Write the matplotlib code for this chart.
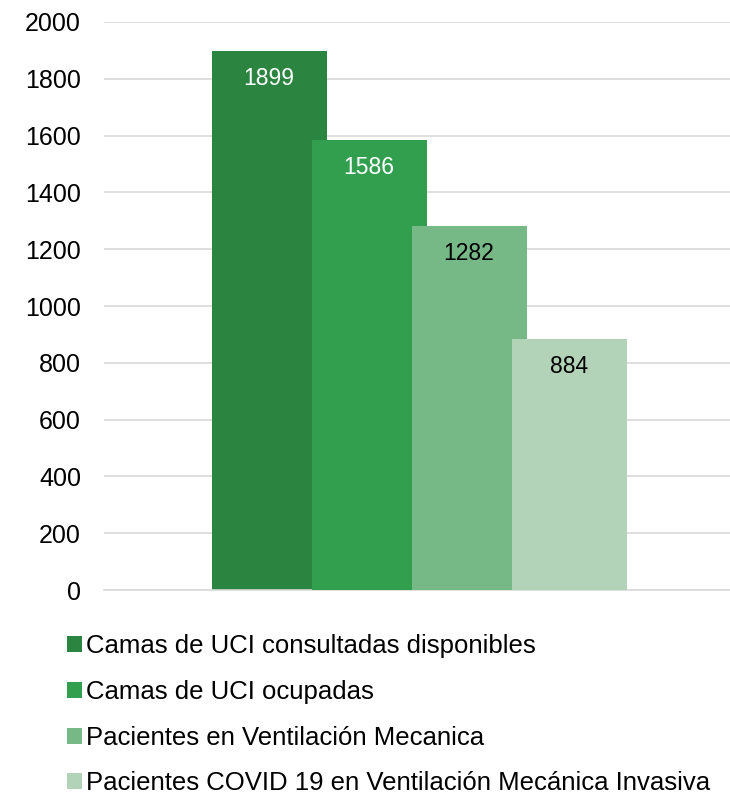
import matplotlib.pyplot as plt
from matplotlib.patches import Patch

plt.rcParams['font.family'] = ['Liberation Sans', 'DejaVu Sans']

# data
series = ["Camas de UCI consultadas disponibles",
          "Camas de UCI ocupadas",
          "Pacientes en Ventilación Mecanica",
          "Pacientes COVID 19 en Ventilación Mecánica Invasiva"]
values = [1899, 1586, 1282, 884]
colors = ['#2B8541', '#329F4F', '#76B986', '#B2D3B8']
label_colors = ['white', 'white', 'black', 'black']
y_ticks = [0, 200, 400, 600, 800, 1000, 1200, 1400, 1600, 1800, 2000]

fig = plt.figure(figsize=(7.3, 7.97), dpi=100)
ax = fig.add_axes([0.1425, 0.2597, 0.8575, 0.7127])

for i, (v, c, lc) in enumerate(zip(values, colors, label_colors)):
    ax.bar(i, v, width=1.15, color=c, zorder=2 + i)
    ax.text(i, v - 98, str(v), ha='center', va='center',
            fontsize=16.5, color=lc, zorder=10)

ax.set_xlim(-1.65, 4.61)
ax.set_ylim(0, 2000)
ax.set_yticks(y_ticks)
ax.set_yticklabels([str(t) for t in y_ticks], fontsize=18)
ax.tick_params(axis='y', length=0, pad=16.5)
ax.set_xticks([])
ax.yaxis.grid(True, color='#d9d9d9', linewidth=1.2, zorder=0)
for s in ['top', 'right', 'left']:
    ax.spines[s].set_visible(False)
ax.spines['bottom'].set_color('#d9d9d9')
ax.spines['bottom'].set_linewidth(1.2)

handles = [Patch(facecolor=c, edgecolor='none') for c in colors]
fig.legend(handles, series, loc='upper left', bbox_to_anchor=(0.078, 0.2175),
           frameon=False, fontsize=18.5, handlelength=0.58, handleheight=0.58,
           handletextpad=0.15, labelspacing=0.85, borderaxespad=0)

fig.savefig('out.png', dpi=100)
